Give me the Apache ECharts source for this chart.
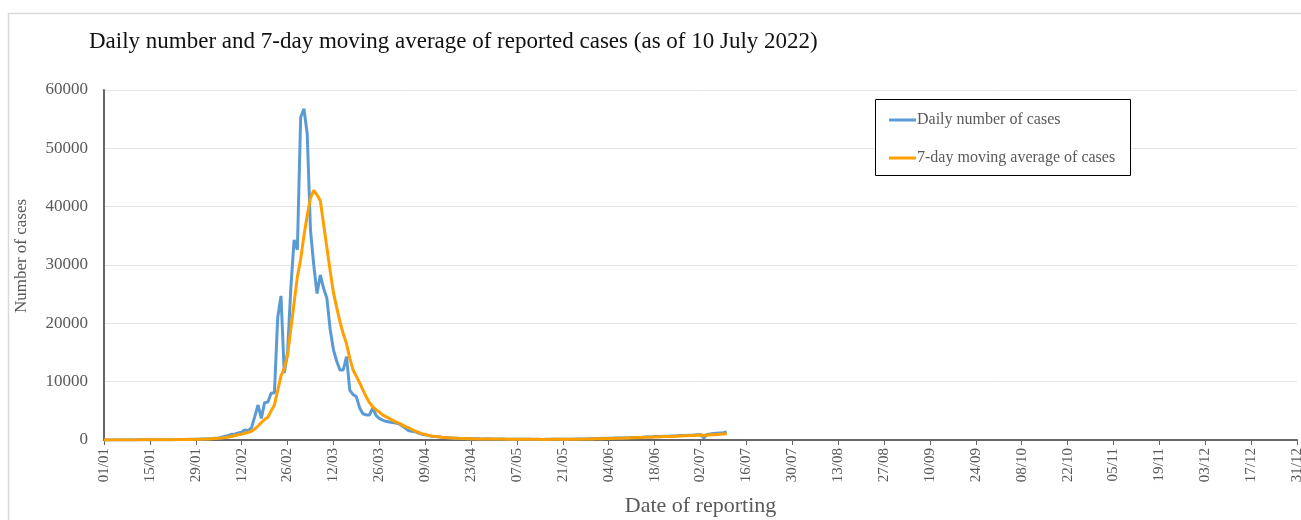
<!DOCTYPE html>
<html>
<head>
<meta charset="utf-8">
<script src="https://cdn.jsdelivr.net/npm/echarts@6/dist/echarts.min.js"></script>
<style>
  html, body { margin: 0; padding: 0; background: #fff; }
  #chart { width: 1301px; height: 520px; }
</style>
</head>
<body>
<div id="chart"></div>
<script>
// month lengths for 2022, used to build the 01/01 .. 31/12 category labels
var monthDays = [31, 28, 31, 30, 31, 30, 31, 31, 30, 31, 30, 31];

// daily number of cases, 01/01 to 10/07
var dailyJan = [12, 10, 15, 9, 18, 14, 20, 17, 22, 19, 25, 28, 24, 30, 35, 33, 40, 45, 42, 50,
                55, 60, 65, 70, 80, 95, 110, 120, 140, 130, 160];
var dailyFeb = [180, 220, 250, 300, 350, 500, 650, 800, 1000, 1050, 1200, 1350, 1700, 1600,
                2100, 4000, 6000, 3700, 6400, 6500, 8000, 8100, 21000, 24700, 11500, 15000, 26000, 34300];
var dailyMar = [32600, 55300, 56800, 52500, 36000, 30000, 25100, 28300, 26000, 24300,
                19000, 15500, 13500, 12000, 12000, 14300, 8500, 7800, 7400, 5500,
                4500, 4300, 4300, 5500, 4200, 3700, 3400, 3200, 3100, 3000, 2900];
var dailyApr = [2800, 2400, 2000, 1600, 1500, 1400, 1200, 1000, 900, 750,
                650, 600, 550, 480, 430, 380, 340, 300, 280, 260,
                250, 230, 220, 200, 210, 190, 180, 200, 170, 160];
var dailyMay = [150, 170, 160, 140, 150, 130, 140, 120, 130, 110, 120, 100, 110, 100, 90, 110,
                100, 120, 110, 130, 120, 140, 130, 150, 160, 170, 180, 190, 210, 230, 250];
var dailyJun = [260, 280, 300, 290, 320, 340, 330, 360, 380, 400, 420, 410, 450, 480, 520,
                550, 530, 580, 600, 620, 650, 640, 680, 700, 720, 760, 780, 800, 830, 860];
var dailyJul = [900, 930, 350, 950, 1050, 1100, 1150, 1200, 1250, 1400];

// 7-day moving average of cases
var avgJan = [10, 11, 11, 12, 13, 14, 15, 15, 16, 18, 20, 22, 24, 26, 28, 31, 34, 38, 42, 46,
              50, 55, 60, 66, 72, 80, 90, 100, 110, 122, 135];
var avgFeb = [150, 175, 200, 240, 280, 340, 420, 520, 650, 780, 900, 1000, 1150, 1300,
              1500, 1900, 2400, 3000, 3500, 3900, 5000, 6000, 8500, 11000, 12300, 14500, 19000, 23500];
var avgMar = [28000, 31000, 35000, 38500, 41500, 42800, 42000, 41000, 37000, 33000,
              29000, 25300, 22700, 20300, 18200, 16500, 14000, 12000, 10900, 9800,
              8600, 7400, 6400, 5700, 5200, 4800, 4300, 4000, 3700, 3400, 3100];
var avgApr = [2900, 2600, 2300, 2100, 1800, 1500, 1300, 1100, 950, 800,
              700, 620, 550, 480, 430, 390, 350, 310, 280, 260,
              240, 220, 205, 195, 190, 185, 180, 175, 170, 165];
var avgMay = [160, 155, 150, 145, 140, 135, 130, 125, 120, 118, 115, 112, 110, 108, 105, 105,
              108, 110, 112, 115, 118, 122, 126, 130, 135, 140, 150, 160, 170, 185, 200];
var avgJun = [215, 230, 245, 260, 275, 290, 305, 320, 335, 350, 370, 390, 410, 430, 450,
              470, 490, 510, 530, 555, 580, 600, 620, 640, 660, 690, 710, 730, 760, 790];
var avgJul = [820, 850, 800, 830, 880, 920, 960, 1000, 1040, 1080];

var dailyCases = [].concat(dailyJan, dailyFeb, dailyMar, dailyApr, dailyMay, dailyJun, dailyJul);
var movingAvg = [].concat(avgJan, avgFeb, avgMar, avgApr, avgMay, avgJun, avgJul);

var dates = [];
for (var m = 0; m < 12; m++) {
  for (var d = 1; d <= monthDays[m]; d++) {
    dates.push((d < 10 ? '0' + d : '' + d) + '/' + (m < 9 ? '0' + (m + 1) : '' + (m + 1)));
  }
}

var serif = '"Liberation Serif", "Times New Roman", serif';
var grey = '#595959';

var myChart = echarts.init(document.getElementById('chart'));
var option = {
  animation: false,
  backgroundColor: '#fff',
  textStyle: { fontFamily: serif },
  title: {
    text: 'Daily number and 7-day moving average of reported cases (as of 10 July 2022)',
    left: 84,
    top: 25,
    textStyle: { fontFamily: serif, fontSize: 23, fontWeight: 'normal', color: '#111' }
  },
  graphic: [
    { // outer chart border
      type: 'rect', silent: true,
      shape: { x: 8.5, y: 13.5, width: 1300, height: 520 },
      style: { fill: 'none', stroke: '#d9d9d9', lineWidth: 1.5 }
    },
    { // legend box
      type: 'rect', silent: true, z: 10,
      shape: { x: 875.5, y: 99.5, width: 255, height: 76 },
      style: { fill: '#fff', stroke: '#000', lineWidth: 1 }
    },
    { // y axis title
      type: 'text', silent: true,
      x: 22, y: 256, rotation: Math.PI / 2,
      style: {
        text: 'Number of cases', fontFamily: serif, fontSize: 17, fill: grey,
        align: 'center', verticalAlign: 'middle'
      }
    }
  ],
  legend: {
    orient: 'vertical',
    left: 876,
    top: 106,
    padding: [6, 14, 6, 13],
    itemGap: 22,
    itemWidth: 27,
    itemHeight: 3,
    icon: 'rect',
    z: 20,
    textStyle: { fontFamily: serif, fontSize: 16, color: grey, padding: [0, 0, 0, -4] },
    data: ['Daily number of cases', '7-day moving average of cases']
  },
  grid: { left: 104, right: 4, top: 90, bottom: 80, containLabel: false, outerBoundsMode: 'none' },
  xAxis: {
    type: 'category',
    data: dates,
    boundaryGap: false,
    name: 'Date of reporting',
    nameLocation: 'middle',
    nameGap: 55,
    nameTextStyle: { fontFamily: serif, fontSize: 22, color: grey },
    axisLine: { lineStyle: { color: '#666', width: 2 } },
    axisTick: { interval: 13, length: 5, lineStyle: { color: '#666', width: 1 } },
    axisLabel: {
      interval: 13, rotate: 90, margin: 8,
      fontFamily: serif, fontSize: 15, color: grey
    },
    splitLine: { show: false }
  },
  yAxis: {
    type: 'value',
    min: 0,
    max: 60000,
    interval: 10000,
    axisLine: { show: true, lineStyle: { color: '#666', width: 2 } },
    axisTick: { show: false },
    axisLabel: {
      margin: 16, fontFamily: serif, fontSize: 17, color: grey,
      formatter: function (v) { return String(v); }
    },
    splitLine: { lineStyle: { color: '#e4e4e4', width: 1 } }
  },
  series: [
    {
      name: 'Daily number of cases',
      type: 'line',
      data: dailyCases,
      symbol: 'none',
      smooth: false,
      lineStyle: { color: '#5b9bd5', width: 3 },
      itemStyle: { color: '#5b9bd5' }
    },
    {
      name: '7-day moving average of cases',
      type: 'line',
      data: movingAvg,
      symbol: 'none',
      smooth: false,
      lineStyle: { color: '#ffa000', width: 3 },
      itemStyle: { color: '#ffa000' }
    }
  ]
};
myChart.setOption(option);
</script>
</body>
</html>
